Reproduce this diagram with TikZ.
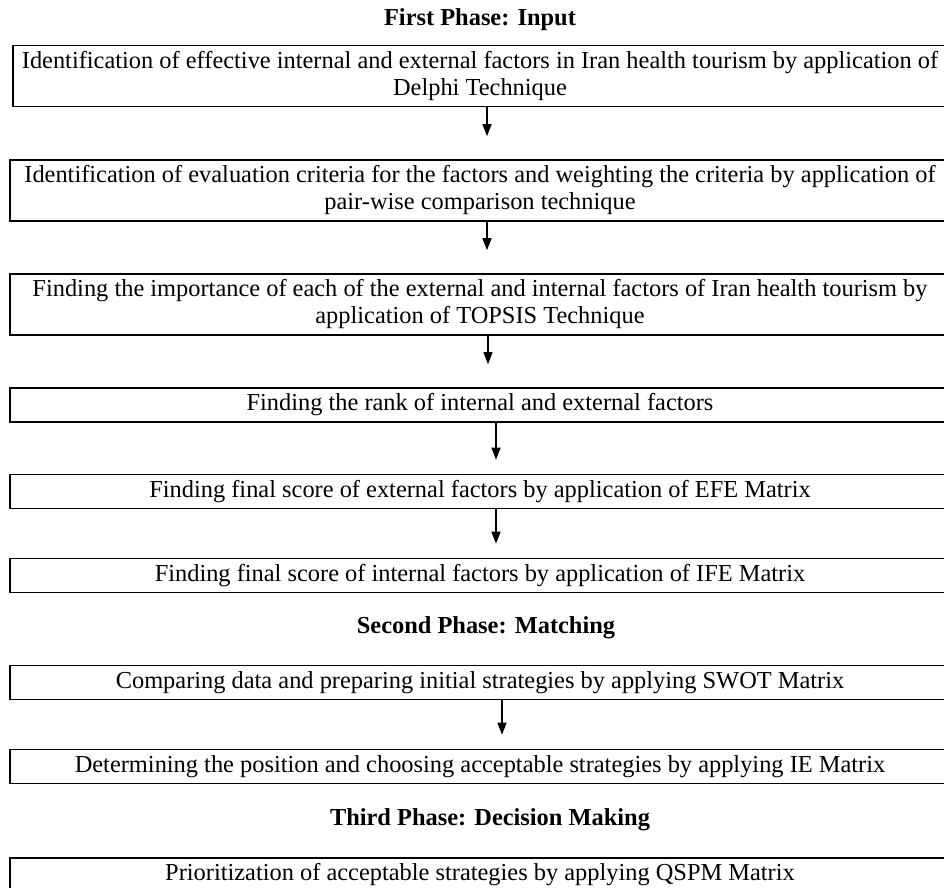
\documentclass[tikz,border=0pt]{standalone}
\usepackage{fontspec}
\setmainfont{Liberation Serif}
\usetikzlibrary{arrows.meta}

\begin{document}
\begin{tikzpicture}[x=0.5pt,y=-0.5pt,
  phase/.style={font=\fontsize{12.2}{13.5}\selectfont\bfseries},
  stepbox/.style={draw=black,line width=0.8pt,minimum width=470pt,minimum height=17pt,
    align=center,font=\fontsize{12.2}{13.5}\selectfont},
  twobox/.style={stepbox,minimum height=30.5pt},
  flow/.style={-{Triangle[length=6pt,width=4.5pt]},line width=0.6pt,shorten >=#1},
  flow/.default=11.5pt]
\tikzstyle{every node}+=[inner sep=0pt]
\clip (0,0) rectangle (944,888);
% first phase
\node[phase] (t1) at (480,20) {First Phase: Input};
\node[twobox,minimum width=467pt] (b1) at (480,76)
  {Identification of effective internal and external factors in Iran health tourism by application of\\Delphi Technique};
\node[twobox] (b2) at (480,190.5)
  {Identification of evaluation criteria for the factors and weighting the criteria by application of\\pair-wise comparison technique};
\node[twobox] (b3) at (480,304.5)
  {Finding the importance of each of the external and internal factors of Iran health tourism by\\application of TOPSIS Technique};
\node[stepbox] (b4) at (480,405) {Finding the rank of internal and external factors};
\node[stepbox] (b5) at (480,491.5) {Finding final score of external factors by application of EFE Matrix};
\node[stepbox] (b6) at (480,575.5) {Finding final score of internal factors by application of IFE Matrix};
% second phase
\node[phase] (t2) at (486,628) {Second Phase: Matching};
\node[stepbox] (b7) at (480,682.5) {Comparing data and preparing initial strategies by applying SWOT Matrix};
\node[stepbox] (b8) at (480,766.5) {Determining the position and choosing acceptable strategies by applying IE Matrix};
% third phase
\node[phase] (t3) at (490,820) {Third Phase: Decision Making};
\node[stepbox] (b9) at (480,875) {Prioritization of acceptable strategies by applying QSPM Matrix};
% arrows
\draw[flow] ([xshift=3.5pt]b1.south) -- ([xshift=3.5pt]b2.north);
\draw[flow] ([xshift=3.5pt]b2.south) -- ([xshift=3.5pt]b3.north);
\draw[flow] ([xshift=4pt]b3.south) -- ([xshift=4pt]b4.north);
\draw[flow=7pt] ([xshift=8pt]b4.south) -- ([xshift=8pt]b5.north);
\draw[flow=7pt] ([xshift=8pt]b5.south) -- ([xshift=8pt]b6.north);
\draw[flow=7pt] ([xshift=11pt]b7.south) -- ([xshift=11pt]b8.north);
\end{tikzpicture}
\end{document}
